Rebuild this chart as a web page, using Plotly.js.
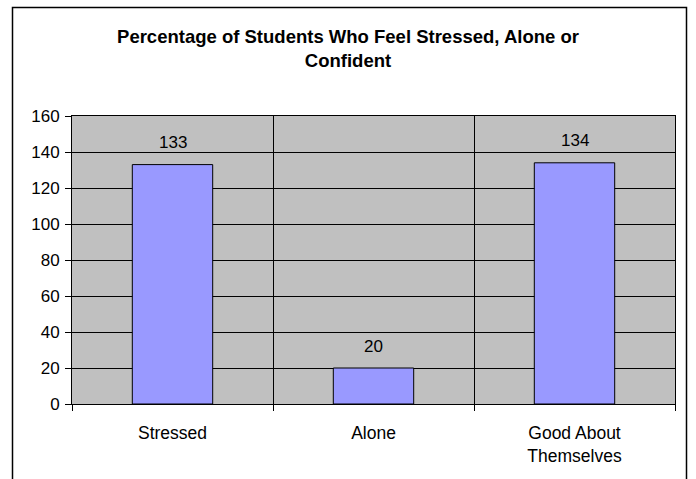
<!DOCTYPE html>
<html><head><meta charset="utf-8">
<script src="https://cdn.plot.ly/plotly-3.0.1.min.js"></script>
<style>html,body{margin:0;padding:0;background:#fff}</style>
</head><body>
<div id="chart" style="width:696px;height:479px"></div>
<script>
const categories = ["Stressed", "Alone", "Good About<br>Themselves"];
const values = [133, 20, 134];
const yTicks = [0, 20, 40, 60, 80, 100, 120, 140, 160];

const W = 696, H = 479;
const m = {l: 72, r: 21, t: 116, b: 75};
const pw = W - m.l - m.r, ph = H - m.t - m.b;
const px = x => (x - m.l) / pw;
const py = y => (H - m.b - y) / ph;
const FONT = "Liberation Sans, Arial, sans-serif";

const trace = {
  type: "bar",
  x: categories,
  y: values,
  marker: {color: "#9999FF", line: {color: "#000", width: 1}},
  width: 0.4,
  hoverinfo: "none"
};

const labels = categories.map((c, i) => ({
  x: c, y: values[i], xref: "x", yref: "y",
  text: String(values[i]), showarrow: false,
  yanchor: "middle", yshift: 22,
  font: {family: FONT, size: 17, color: "#000"}
}));

const layout = {
  width: W, height: H,
  margin: m,
  paper_bgcolor: "#fff",
  plot_bgcolor: "#C0C0C0",
  font: {family: FONT, size: 17, color: "#000"},
  showlegend: false,
  title: {
    text: "<b>Percentage of Students Who Feel Stressed, Alone or<br>Confident</b>",
    font: {size: 18.5, color: "#000"},
    x: 0.5, xanchor: "center", y: 1 - 42.5/H, yanchor: "middle"
  },
  xaxis: {
    type: "category",
    tickson: "boundaries",
    ticks: "outside", ticklen: 6, tickcolor: "#000",
    showgrid: true, gridcolor: "#000", gridwidth: 1,
    showline: true, linecolor: "#000", linewidth: 1, mirror: true,
    ticklabelstandoff: 13,
    tickfont: {size: 17.5}
  },
  yaxis: {
    range: [0, 160],
    tickvals: yTicks,
    ticks: "outside", ticklen: 6, tickcolor: "#000",
    showgrid: true, gridcolor: "#000", gridwidth: 1,
    showline: true, linecolor: "#000", linewidth: 1, mirror: true,
    zeroline: false,
    ticklabelstandoff: 2,
    tickfont: {size: 17}
  },
  annotations: labels,
  shapes: [{
    type: "path", xref: "paper", yref: "paper",
    path: `M ${px(12.5)} ${py(490)} L ${px(12.5)} ${py(7.5)} L ${px(686.5)} ${py(7.5)} L ${px(686.5)} ${py(490)}`,
    line: {color: "#000", width: 1.5}
  }]
};

Plotly.newPlot("chart", [trace], layout, {displayModeBar: false, staticPlot: true});
</script>
</body></html>
